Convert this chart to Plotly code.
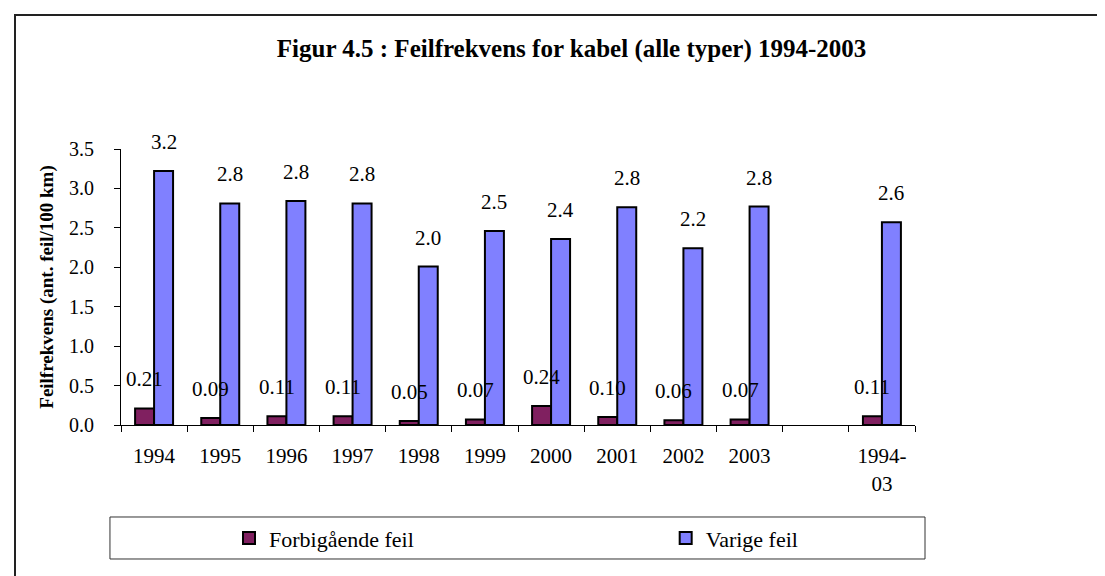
import plotly.graph_objects as go

categories = ["1994", "1995", "1996", "1997", "1998", "1999", "2000",
              "2001", "2002", "2003", " ", "1994-<br>03"]
forbigaende = [0.21, 0.09, 0.11, 0.11, 0.05, 0.07, 0.24, 0.10, 0.06, 0.07, None, 0.11]
varige = [3.22, 2.81, 2.84, 2.81, 2.01, 2.46, 2.36, 2.76, 2.24, 2.77, None, 2.57]

SERIF = "Liberation Serif"
MAROON = "#802060"
BLUE = "#8080FF"

fig = go.Figure()
fig.add_trace(go.Bar(x=categories, y=forbigaende, name="Forbigående feil",
                     legend="legend", showlegend=True,
                     marker=dict(color=MAROON, line=dict(color="black", width=2))))
fig.add_trace(go.Bar(x=categories, y=varige, name="Varige feil",
                     legend="legend2", showlegend=True,
                     marker=dict(color=BLUE, line=dict(color="black", width=2))))

# data labels, centred over each bar (drawn on top of the bars like in excel)
half = (1 - 0.426) / 4
ann = []
for i, (a, b) in enumerate(zip(forbigaende, varige)):
    if a is not None:
        ann.append(dict(x=i - half, y=a, text="%.2f" % a, xref="x", yref="y",
                        showarrow=False, yanchor="bottom", yshift=15,
                        font=dict(family=SERIF, size=21, color="black")))
    if b is not None:
        ann.append(dict(x=i + half, y=b, text="%.1f" % b, xref="x", yref="y",
                        showarrow=False, yanchor="bottom", yshift=15,
                        font=dict(family=SERIF, size=21, color="black")))

leg = dict(orientation="h", xanchor="left", y=-0.41, yanchor="middle",
           font=dict(family=SERIF, size=22, color="black"),
           bgcolor="rgba(0,0,0,0)", borderwidth=0, visible=True)

fig.update_layout(
    width=1105, height=576, showlegend=True,
    barmode="group", bargap=0.426, bargroupgap=0,
    plot_bgcolor="white", paper_bgcolor="white",
    font=dict(family=SERIF, size=18, color="black"),
    margin=dict(l=113, r=198, t=141, b=159, pad=0),
    title=dict(text="<b>Figur 4.5 : Feilfrekvens for kabel (alle typer) 1994-2003</b>",
               x=0.51, xanchor="center", y=0.93, yanchor="middle",
               font=dict(family=SERIF, size=25, color="black")),
    xaxis=dict(type="category", showline=True, linecolor="black", linewidth=1,
               ticks="outside", ticklen=6, tickcolor="black", tickson="boundaries",
               ticklabelstandoff=12, showgrid=False,
               tickfont=dict(family=SERIF, size=21, color="black")),
    yaxis=dict(range=[0, 3.5], dtick=0.5, tickformat=".1f", showline=True,
               linecolor="black", linewidth=1, ticks="outside", ticklen=6,
               tickcolor="black", showgrid=False, zeroline=False,
               ticklabelstandoff=16, tickfont=dict(family=SERIF, size=20, color="black"),
               title=dict(text="<b>Feilfrekvens (ant. feil/100 km)</b>",
                          font=dict(family=SERIF, size=19, color="black"), standoff=10)),
    legend=dict(leg, x=0.136),
    legend2=dict(leg, x=0.686),
    annotations=ann,
    shapes=[
        # outer chart frame (cropped at right and bottom)
        dict(type="rect", xref="paper", yref="paper", x0=-0.1335, x1=1.4,
             y0=-0.8, y1=1.4855, line=dict(color="#222222", width=2)),
        # legend box
        dict(type="rect", xref="paper", yref="paper", x0=-0.0139, x1=1.0126,
             y0=-0.4855, y1=-0.3333, line=dict(color="#333333", width=1)),
    ],
)

fig.write_html("out.html")
